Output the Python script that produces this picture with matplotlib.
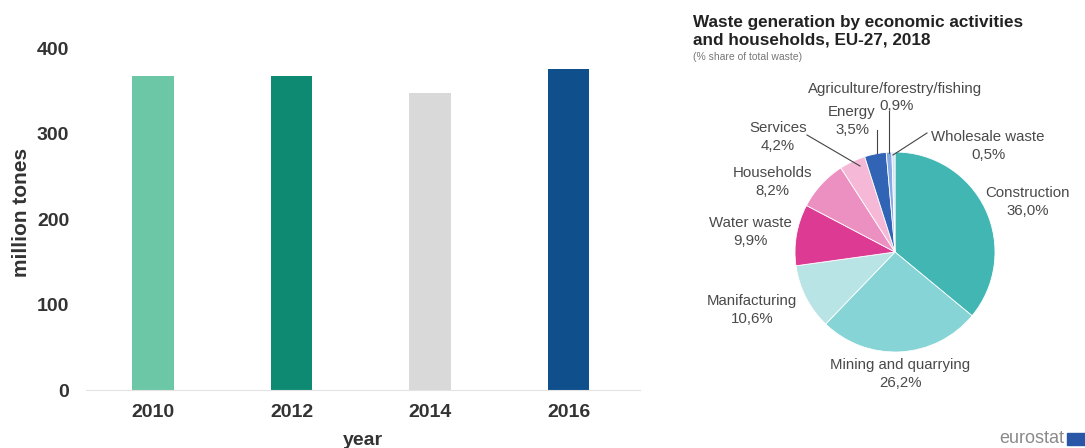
import matplotlib
matplotlib.use("Agg")
import matplotlib.pyplot as plt
from matplotlib.patches import Rectangle

plt.rcParams['font.family'] = ['Liberation Sans', 'DejaVu Sans']

# ---- bar chart data ----
years = ["2010", "2012", "2014", "2016"]
waste_mt = [367, 367, 347, 376]
bar_colors = ["#6cc7a6", "#0e8a72", "#d9d9d9", "#0f4f8c"]
y_ticks = [0, 100, 200, 300, 400]

# ---- pie chart data (clockwise from 12 o'clock) ----
sectors = ["Construction", "Mining and quarrying", "Manifacturing", "Water waste",
           "Households", "Services", "Energy", "Agriculture/forestry/fishing",
           "Wholesale waste"]
shares = [36.0, 26.2, 10.6, 9.9, 8.2, 4.2, 3.5, 0.9, 0.5]
share_labels = ["36,0%", "26,2%", "10,6%", "9,9%", "8,2%", "4,2%", "3,5%", "0,9%", "0,5%"]
pie_colors = ["#41b6b3", "#86d4d6", "#b9e4e5", "#dc3a93", "#ec8fc1",
              "#f5b9d7", "#3264b5", "#86a9e3", "#cfe3f7"]

W, H = 1085, 448
fig = plt.figure(figsize=(W / 100, H / 100), dpi=100)

# ---------------- bar chart ----------------
axb = fig.add_axes([86 / W, 1 - 390 / H, (640 - 86) / W, (390 - 48) / H])
xpos = list(range(len(years)))
axb.bar(xpos, waste_mt, width=0.30, color=bar_colors, zorder=2)
axb.set_xlim(-0.484, 3.516)
axb.set_ylim(0, 400)
axb.set_xticks(xpos)
axb.set_xticklabels(years)
axb.set_yticks(y_ticks)
for s in ["top", "right", "left"]:
    axb.spines[s].set_visible(False)
axb.spines["bottom"].set_color("#e3e3e3")
axb.tick_params(axis="both", length=0, labelsize=14, labelcolor="#333333")
axb.tick_params(axis="x", pad=10)
axb.tick_params(axis="y", pad=12)
for lab in axb.get_xticklabels() + axb.get_yticklabels():
    lab.set_fontweight("bold")
axb.set_ylabel("million tones", fontsize=15, fontweight="bold", color="#333333")
axb.yaxis.set_label_coords(-0.100, 0.52)
axb.set_xlabel("year", fontsize=14, fontweight="bold", color="#333333", labelpad=8)

# ---------------- pie chart ----------------
cx, cy, r = 895, 252, 100
axp = fig.add_axes([(cx - r) / W, 1 - (cy + r) / H, 2 * r / W, 2 * r / H])
axp.pie(shares, colors=pie_colors, startangle=90, counterclock=False,
        wedgeprops=dict(linewidth=0.6, edgecolor="white"))
axp.set_xlim(-1, 1)
axp.set_ylim(-1, 1)
axp.set_aspect("auto")
axp.axis("off")

lab_style = dict(fontsize=10.8, color="#4a4a4a", ha="center", va="center",
                 linespacing=1.4, clip_on=False)
label_pos = {
    "Construction": (1.33, 0.50),
    "Mining and quarrying": (0.05, -1.22),
    "Manifacturing": (-1.43, -0.58),
    "Water waste": (-1.45, 0.20),
    "Households": (-1.23, 0.70),
    "Services": (-1.17, 1.15),
    "Energy": (-0.43, 1.31),
    "Wholesale waste": (0.93, 1.06),
}
for name, pct in zip(sectors, share_labels):
    if name in label_pos:
        x, y = label_pos[name]
        axp.text(x, y, f"{name}\n{pct}", **lab_style)
axp.text(0.0, 1.63, sectors[7], **lab_style)
axp.text(0.02, 1.46, share_labels[7], **lab_style)

leaders = [((-0.88, 1.17), (-0.35, 0.86)),
           ((-0.18, 1.22), (-0.18, 0.99)),
           ((-0.06, 1.41), (-0.06, 0.99)),
           ((0.32, 1.19), (-0.02, 0.97))]
for (x0, y0), (x1, y1) in leaders:
    axp.plot([x0, x1], [y0, y1], color="#444444", lw=0.8, clip_on=False)

# titles
fig.text(693 / W, 1 - 22 / H, "Waste generation by economic activities",
         fontsize=12.3, fontweight="bold", color="#222222", ha="left", va="center")
fig.text(693 / W, 1 - 40 / H, "and households, EU-27, 2018",
         fontsize=12.3, fontweight="bold", color="#222222", ha="left", va="center")
fig.text(693 / W, 1 - 57 / H, "(% share of total waste)", fontsize=7.5, color="#777777",
         ha="left", va="center")

# eurostat mark
fig.text(1064 / W, 1 - 438 / H, "eurostat", fontsize=13, color="#8a8a8a", ha="right", va="center")
fig.add_artist(Rectangle((1067 / W, 1 - 445 / H), 18 / W, 12 / H,
                         transform=fig.transFigure, color="#2a56a8"))

fig.savefig("out.png", dpi=100)
